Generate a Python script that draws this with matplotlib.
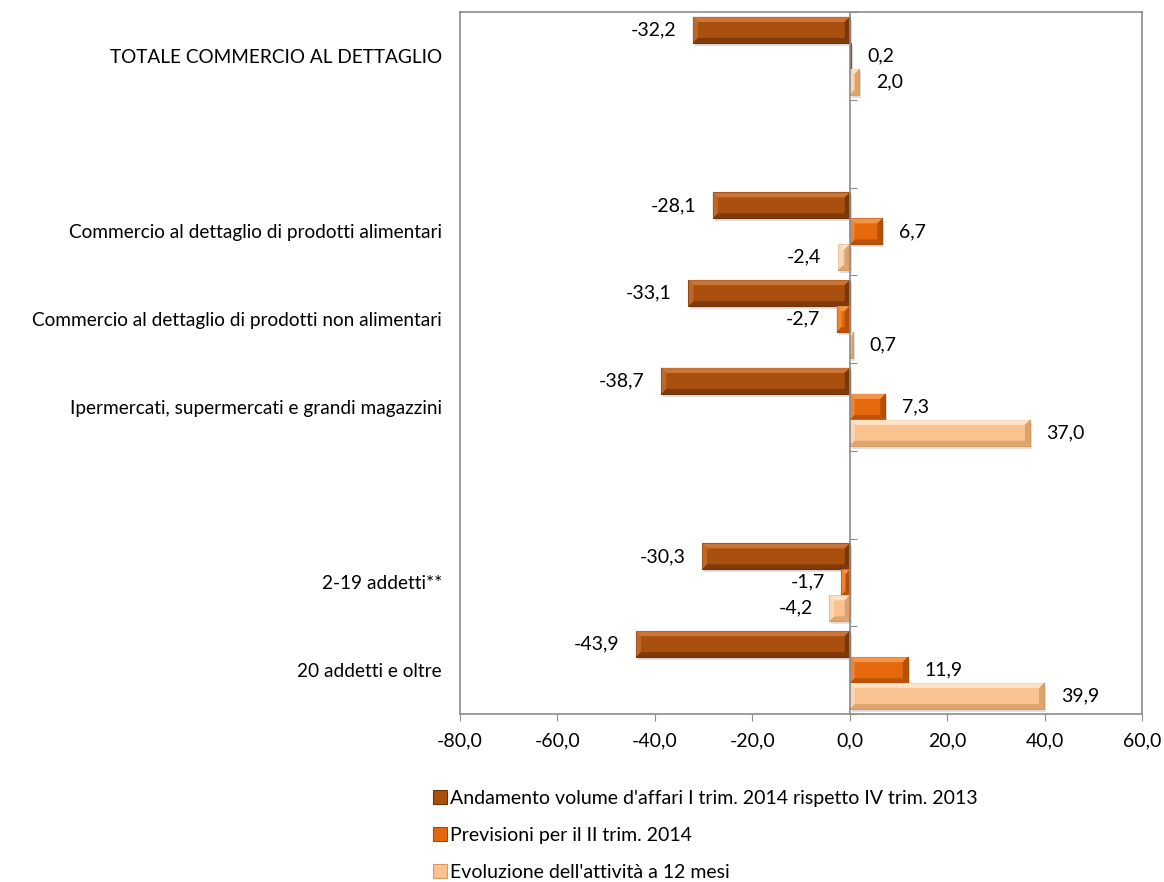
import numpy as np
import matplotlib
matplotlib.use("Agg")
import matplotlib.pyplot as plt
from matplotlib.patches import Polygon, Rectangle
from matplotlib.ticker import FuncFormatter, MultipleLocator

plt.rcParams["font.family"] = ["Lato", "DejaVu Sans"]
plt.rcParams["font.size"] = 14

# empty strings are spacer rows between the groups
categories = ["TOTALE COMMERCIO AL DETTAGLIO", "",
              "Commercio al dettaglio di prodotti alimentari",
              "Commercio al dettaglio di prodotti non alimentari",
              "Ipermercati, supermercati e grandi magazzini", "",
              "2-19 addetti**", "20 addetti e oltre"]
series_names = ["Andamento volume d'affari I trim. 2014 rispetto IV trim. 2013",
                "Previsioni per il II trim. 2014",
                "Evoluzione dell'attività a 12 mesi"]
andamento = [-32.2, np.nan, -28.1, -33.1, -38.7, np.nan, -30.3, -43.9]
previsioni = [0.2, np.nan, 6.7, -2.7, 7.3, np.nan, -1.7, 11.9]
evoluzione = [2.0, np.nan, -2.4, 0.7, 37.0, np.nan, -4.2, 39.9]

# (face, light bevel, dark bevel)
colors = [("#A9500F", "#CF7A3C", "#6E3208"),
          ("#E6680C", "#F49A52", "#A84A05"),
          ("#F9C28E", "#FFE6CC", "#D59A62")]
grey = "#8C8C8C"

xmin, xmax = -80, 60
fig = plt.figure(figsize=(11.64, 8.82), dpi=100)
ax = fig.add_axes([460 / 1164, 1 - 714 / 882, 682 / 1164, 702 / 882])

h = 0.296
px_x = 682 / (xmax - xmin)   # pixels per x unit
px_y = 702 / len(categories)  # pixels per category


def bevel_bar(ax, yc, v, cols):
    face, light, dark = cols
    xl, xr = min(0, v), max(0, v)
    yt, yb = yc - h / 2, yc + h / 2
    dx = min(5 / px_x, (xr - xl) / 2)
    dy = 5 / px_y
    # soft drop shadow
    ax.add_patch(Rectangle((xl + 2 / px_x, yt + 3 / px_y), xr - xl, h,
                           facecolor="#000000", alpha=0.12, lw=0, zorder=2))
    ax.add_patch(Rectangle((xl, yt), xr - xl, h, facecolor=face,
                           edgecolor=dark, lw=0.8, zorder=3))
    top = [(xl, yt), (xr, yt), (xr - dx, yt + dy), (xl + dx, yt + dy)]
    bot = [(xl, yb), (xr, yb), (xr - dx, yb - dy), (xl + dx, yb - dy)]
    left = [(xl, yt), (xl + dx, yt + dy), (xl + dx, yb - dy), (xl, yb)]
    right = [(xr, yt), (xr - dx, yt + dy), (xr - dx, yb - dy), (xr, yb)]
    for pts, c, a in [(top, light, 0.9), (left, light, 0.6),
                      (bot, dark, 0.7), (right, dark, 0.8)]:
        ax.add_patch(Polygon(pts, closed=True, facecolor=c, alpha=a,
                             lw=0, zorder=4))


def fmt(v):
    return f"{v:.1f}".replace(".", ",")


for j, vals in enumerate([andamento, previsioni, evoluzione]):
    for i, v in enumerate(vals):
        if np.isnan(v):
            continue
        yc = i + (j - 1) * h
        bevel_bar(ax, yc, v, colors[j])
        off = 12 if v >= 0 else -12
        ax.annotate(fmt(v), (v, yc), xytext=(off, 0), textcoords="offset points",
                    ha="left" if v >= 0 else "right", va="center")

ax.set_xlim(xmin, xmax)
ax.set_ylim(len(categories) - 0.5, -0.5)
ax.xaxis.set_major_locator(MultipleLocator(20))
ax.xaxis.set_major_formatter(FuncFormatter(lambda v, p: fmt(v)))
ax.set_yticks(range(len(categories)), categories, fontsize=13.7)
ax.tick_params(axis="y", length=0, pad=13)
ax.tick_params(axis="x", length=5, color=grey, pad=8)
for s in ax.spines.values():
    s.set_color(grey)
    s.set_linewidth(1.2)

# category axis sitting on the zero line
zero = ax.secondary_yaxis((0 - xmin) / (xmax - xmin))
zero.set_yticks(np.arange(len(categories) + 1) - 0.5, [""] * (len(categories) + 1))
zero.tick_params(axis="y", length=5, color=grey, direction="out")
for s in zero.spines.values():
    s.set_color(grey)
    s.set_linewidth(1.2)
zero.set_zorder(5)

handles = [Rectangle((0, 0), 1, 1, facecolor=c[0], edgecolor=c[2], lw=0.8)
           for c in colors]
fig.legend(handles, series_names, loc="upper left",
           bbox_to_anchor=(433 / 1164, 1 - 790 / 882), frameon=False,
           handlelength=0.7, handleheight=0.7, handletextpad=0.2,
           labelspacing=1.02, borderpad=0, borderaxespad=0, fontsize=14)

fig.savefig("out.png", dpi=100)
